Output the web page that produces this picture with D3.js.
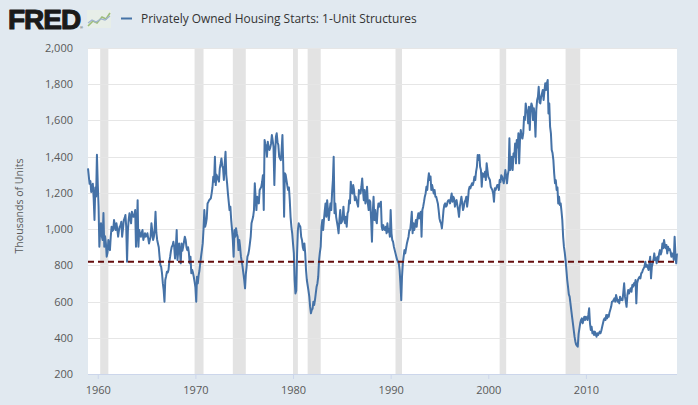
<!DOCTYPE html>
<html><head><meta charset="utf-8">
<script src="https://cdn.jsdelivr.net/npm/d3@7"></script>
<style>body{margin:0;background:#e1e9f0;}svg{display:block;}</style>
</head><body><svg id="chart" width="698" height="405"></svg>
<script>
// ---- data (thousands of units, monthly, SAAR) ----
const firstMonth = "1959-01-01";
const starts1959 = [1335,1290,1250,1265,1205,1230,1250,1170,1050,1230,1180,1410];
const starts1960s = [
 1250,1124,903,1000,1033,960,940,1089,903,960,920,848,
 870,940,900,884,958,1013,990,995,1050,1020,995,1032,
 1000,958,990,1013,1020,1041,958,1000,1050,1060,1078,1013,
 820,990,1050,1087,1060,1032,1096,1070,1068,1080,1105,903,
 1000,1160,903,995,970,958,980,995,940,960,977,958,
 965,977,950,921,940,958,1032,990,940,958,1000,1096,
 980,940,921,900,848,800,792,756,700,664,599,719,
 740,765,760,774,820,848,880,903,910,930,900,838,
 900,995,829,880,921,870,811,921,880,903,930,958,
 940,900,884,900,870,811,848,756,775,760,737,710];
const starts1970s = [
 680,599,737,700,745,770,811,850,884,921,1000,1105,
 1013,1032,1060,1142,1150,1160,1165,1170,1197,1230,1289,1262,
 1400,1243,1300,1289,1275,1262,1335,1360,1390,1350,1335,1271,
 1360,1427,1300,1253,1197,1150,1105,1124,1050,1000,940,848,
 995,958,1005,975,958,884,940,900,848,820,792,756,
 720,673,750,792,848,860,884,920,958,1032,1050,1068,
 1105,1253,1180,1105,1179,1160,1142,1216,1225,1234,1260,1298,
 1105,1492,1470,1455,1400,1483,1450,1437,1450,1473,1519,1490,
 1455,1243,1400,1510,1529,1480,1464,1400,1390,1381,1437,1519,
 1350,1068,1308,1300,1271,1240,1216,1230,1160,1068,1013,977];
const starts1980s = [
 920,866,719,645,660,866,995,1032,1020,1013,958,940,
 900,884,921,866,774,719,690,660,627,572,535,553,
 560,599,581,608,645,682,700,737,829,870,903,1013,
 1050,995,1050,1100,1142,1068,1160,1105,1050,1100,1142,1105,
 1200,1271,1400,1087,1142,1068,1040,1013,977,1050,1105,1032,
 1040,1068,1124,1050,1032,1068,1013,1087,1100,1160,1142,1262,
 1200,1197,1243,1216,1160,1179,1160,1142,1124,1216,1197,1197,
 1234,1280,1216,1160,1216,1142,1160,1234,1142,1105,1160,1150,
 1050,930,1087,1179,1050,1105,1050,1032,1105,1142,1124,1142,
 1151,1013,995,1022,1000,995,1013,977,1032,986,1000,958];
const starts1990s = [
 1105,977,940,930,903,884,866,848,830,820,811,774,
 700,608,737,811,848,884,866,894,921,940,958,995,
 995,1040,1096,977,1032,995,1020,1050,1013,1060,1087,1059,
 1087,1096,958,1105,1124,1150,1179,1197,1234,1216,1270,1308,
 1271,1290,1216,1243,1220,1197,1216,1179,1179,1160,1142,1105,
 1059,1040,1032,1004,1050,1105,1133,1142,1124,1130,1151,1160,
 1160,1142,1170,1197,1151,1179,1170,1124,1151,1160,1130,1105,
 1068,1124,1150,1179,1142,1105,1124,1151,1160,1179,1124,1160,
 1216,1234,1225,1240,1253,1243,1260,1289,1271,1317,1344,1409,
 1381,1409,1344,1326,1234,1308,1300,1289,1317,1271,1363,1326];
const starts2000s = [
 1289,1280,1271,1234,1225,1216,1197,1151,1225,1216,1230,1243,
 1243,1216,1271,1260,1298,1289,1271,1253,1289,1326,1289,1253,
 1300,1326,1501,1326,1350,1400,1326,1418,1400,1473,1363,1492,
 1450,1529,1363,1492,1547,1510,1500,1529,1621,1602,1694,1660,
 1639,1584,1676,1547,1657,1694,1680,1602,1667,1620,1510,1657,
 1713,1731,1786,1700,1694,1731,1749,1768,1713,1760,1805,1768,
 1805,1823,1639,1694,1566,1529,1437,1420,1381,1308,1253,1270,
 1216,1230,1142,1179,1133,1142,1100,1050,958,903,870,829,
 774,719,682,640,627,590,553,516,480,443,406,380,
 362,356,351,420,450,480,498,507,480,498,516,498];
const starts2010s = [
 516,510,498,526,563,480,443,461,425,434,415,434,
 420,406,425,415,425,434,425,440,461,480,500,507,
 498,526,507,526,516,540,555,571,599,600,608,618,
 599,636,620,599,608,590,627,608,615,608,654,701,
 627,600,571,636,664,645,660,673,654,691,682,701,
 690,719,590,701,719,730,737,728,756,760,774,783,
 792,820,792,802,790,774,811,848,728,790,811,829,
 866,829,840,811,848,829,866,884,860,875,921,894,
 940,910,894,912,866,903,884,890,875,848,866,857,
 830,958,866,811,866];
const yTickValues = [200,400,600,800,1000,1200,1400,1600,1800,2000];
const xTickYears = [1960,1970,1980,1990,2000,2010];
const recessionStarts = ["1960-04-01","1969-12-01","1973-11-01","1980-01-01","1981-07-01","1990-07-01","2001-03-01","2007-12-01"];
const recessionEnds   = ["1961-02-01","1970-11-01","1975-03-01","1980-07-01","1982-11-01","1991-03-01","2001-11-01","2009-06-01"];
const referenceLevel = 820;
const seriesTitle = "Privately Owned Housing Starts: 1-Unit Structures";
const yAxisTitle = "Thousands of Units";

// ---- build series ----
const values = [].concat(starts1959, starts1960s, starts1970s, starts1980s, starts1990s, starts2000s, starts2010s);
const parse = d3.timeParse("%Y-%m-%d");
const t0 = parse(firstMonth);
const series = values.map((v, i) => ({date: d3.timeMonth.offset(t0, i), value: v}));

const svg = d3.select("#chart");
const W = 698, H = 405;
const plot = {left: 88, right: 677, top: 48, bottom: 374};

svg.append("rect").attr("width", W).attr("height", H).attr("fill", "#e1e9f0");

const x = d3.scaleTime().domain([t0, series[series.length - 1].date]).range([plot.left, plot.right]);
const y = d3.scaleLinear().domain([200, 2000]).range([plot.bottom, plot.top]);

svg.append("rect").attr("x", plot.left).attr("y", plot.top)
  .attr("width", plot.right - plot.left).attr("height", plot.bottom - plot.top).attr("fill", "#ffffff");

// recession shading
svg.append("g").selectAll("rect").data(recessionStarts.map((s, i) => [parse(s), parse(recessionEnds[i])]))
  .join("rect")
  .attr("x", d => x(d[0])).attr("width", d => x(d[1]) - x(d[0]))
  .attr("y", plot.top).attr("height", plot.bottom - plot.top)
  .attr("fill", "#e3e3e3");

// gridlines
svg.append("g").selectAll("line").data(yTickValues.filter(v => v > 200))
  .join("line")
  .attr("x1", plot.left).attr("x2", plot.right)
  .attr("y1", d => Math.round(y(d)) + 0.5).attr("y2", d => Math.round(y(d)) + 0.5)
  .attr("stroke", "#e6e6e6").attr("stroke-width", 1);

// y axis labels
const yAxis = d3.axisLeft(y).tickValues(yTickValues).tickSize(0).tickPadding(0)
  .tickFormat(d3.format(","));
const gy = svg.append("g").attr("transform", "translate(73,0)").call(yAxis);
gy.select(".domain").remove();
gy.selectAll("text").attr("fill", "#595959").style("font-family", "'Open Sans', sans-serif").style("font-size", "11px");

// x axis
const xAxis = d3.axisBottom(x).tickValues(xTickYears.map(yv => new Date(yv, 0, 1)))
  .tickFormat(d3.timeFormat("%Y")).tickSize(5).tickPadding(7);
const gx = svg.append("g").attr("transform", `translate(0,${plot.bottom})`).call(xAxis);
gx.select(".domain").attr("d", `M${plot.left},0.5H${plot.right}`).attr("stroke", "#ccd6eb");
gx.selectAll(".tick line").attr("stroke", "#ccd6eb");
gx.selectAll("text").attr("fill", "#595959").style("font-family", "'Open Sans', sans-serif").style("font-size", "11px");

// series line
const line = d3.line().x(d => x(d.date)).y(d => y(d.value));
svg.append("path").datum(series).attr("d", line)
  .attr("fill", "none").attr("stroke", "#4572a7").attr("stroke-width", 2).attr("stroke-linejoin", "round");

// reference dashed line
svg.append("line")
  .attr("x1", plot.left).attr("x2", plot.right)
  .attr("y1", y(referenceLevel)).attr("y2", y(referenceLevel))
  .attr("stroke", "#650c0c").attr("stroke-width", 2).attr("stroke-dasharray", "6,4");

// y axis title
function fit(sel, target) {
  const n = sel.node();
  const fs = parseFloat(sel.style("font-size"));
  const len = n.getComputedTextLength();
  if (len > 0) sel.style("font-size", (fs * target / len).toFixed(2) + "px");
}
const yt = svg.append("text")
  .attr("transform", "translate(23,206) rotate(-90)")
  .attr("text-anchor", "middle")
  .attr("fill", "#595959")
  .style("font-family", "'Open Sans', sans-serif").style("font-size", "12px")
  .text(yAxisTitle);
fit(yt, 95);

// header: FRED logo
const logo = svg.append("text").attr("x", 8).attr("y", 28.5)
  .attr("fill", "#1a1a1a").attr("stroke", "#1a1a1a").attr("stroke-width", 1.1)
  .attr("stroke-linejoin", "round")
  .style("font-family", "'Liberation Sans', Arial, sans-serif").style("font-weight", "bold").style("font-size", "26px")
  .style("letter-spacing", "-1px")
  .text("FRED");
fit(logo, 72);
svg.append("text").attr("x", 80).attr("y", 29).attr("fill", "#1a1a1a")
  .style("font-family", "'Liberation Sans', Arial, sans-serif").style("font-size", "4px").text("®");
const icon = svg.append("g").attr("transform", "translate(87,10)");
icon.append("rect").attr("width", 24).attr("height", 18).attr("fill", "#e9efe6").attr("opacity", 0.8);
icon.append("polyline").attr("points", "1,16 6,11 10,13 15,7 19,9 23,3")
  .attr("fill", "none").attr("stroke", "#9dbd78").attr("stroke-width", 1.6);
icon.append("polyline").attr("points", "1,13 5,10 9,12 14,9 18,10 23,6")
  .attr("fill", "none").attr("stroke", "#9fb3cf").attr("stroke-width", 1.2);

// legend
svg.append("line").attr("x1", 121).attr("x2", 132).attr("y1", 18.5).attr("y2", 18.5)
  .attr("stroke", "#4572a7").attr("stroke-width", 2);
const title = svg.append("text").attr("x", 141).attr("y", 23)
  .attr("fill", "#333333")
  .style("font-family", "'Open Sans', sans-serif").style("font-size", "12.5px")
  .text(seriesTitle);
fit(title, 276);
</script>
</body></html>
